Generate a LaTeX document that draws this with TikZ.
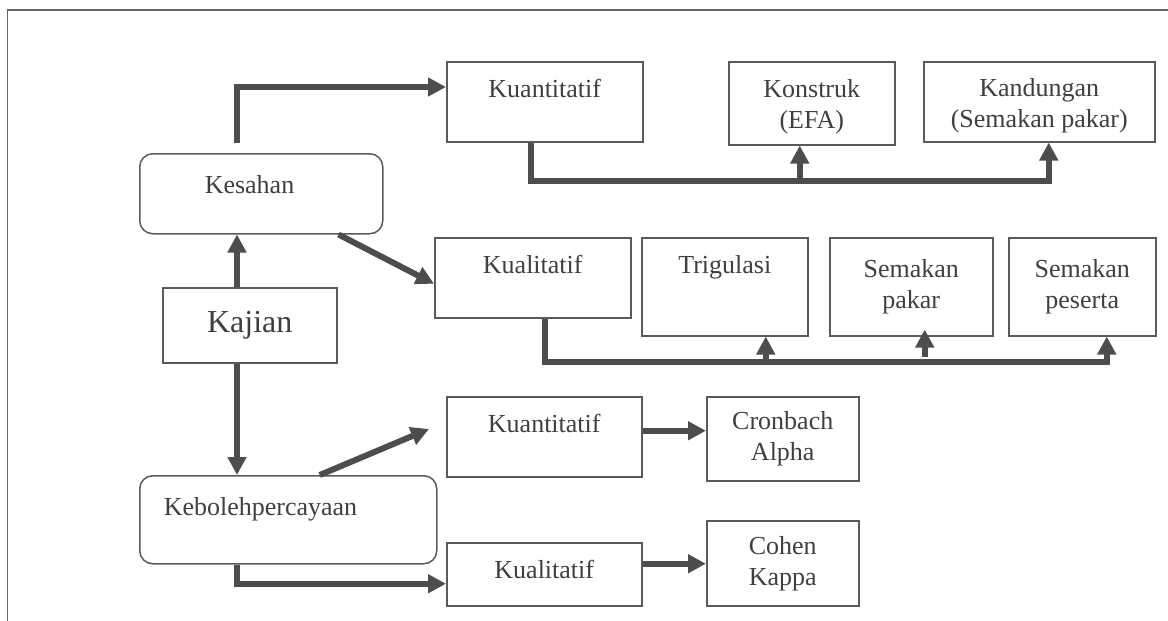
\documentclass[tikz,border=0pt]{standalone}
\usepackage{fontspec}
\setmainfont{Liberation Serif}
\usetikzlibrary{arrows.meta}

\definecolor{linegray}{HTML}{4D4D4D}
\definecolor{boxgray}{HTML}{5A5A5A}
\definecolor{textgray}{HTML}{3F3F3F}

\begin{document}
\begin{tikzpicture}[
  x=0.5pt, y=-0.5pt,
  >={Triangle[width=9pt,length=9pt]},
  every node/.style={font=\fontsize{13pt}{15.5pt}\selectfont, text=textgray},
  box/.style={draw=boxgray, line width=.75pt, anchor=north west, align=center, inner sep=0pt},
  topbox/.style={box, text height=18pt, text depth=#1},
  roundbox/.style={box, rounded corners=6.5pt, align=left, text height=20pt},
  flow/.style={->, draw=linegray, line width=3pt},
  frame/.style={draw=gray!80!black, line width=.75pt}
]
  \useasboundingbox (0,0) rectangle (1168,621);
  \draw[frame] (7.5,621) -- (7.5,10) -- (1168,10);

  % boxes
  \node[topbox=22pt, minimum width=98pt] (kuanA) at (446,61) {Kuantitatif};
  \node[box, minimum width=83pt, minimum height=41.5pt] (konstruk) at (728,61) {\rule{0pt}{13pt}Konstruk\\(EFA)};
  \node[box, minimum width=115.5pt, minimum height=40pt] (kandungan) at (923,61) {\rule{0pt}{13pt}Kandungan\\(Semakan pakar)};
  \node[roundbox, text width=56.5pt, inner xsep=32.5pt, text depth=20pt] (kesahan) at (139,153) {Kesahan};
  \node[topbox=22pt, minimum width=98pt] (kualA) at (434,237) {Kualitatif};
  \node[topbox=31pt, minimum width=83pt] (trigulasi) at (641,237) {Trigulasi};
  \node[box, minimum width=81.5pt, minimum height=49pt] (pakar) at (829,237) {Semakan\\pakar};
  \node[box, minimum width=73.5pt, minimum height=49pt] (peserta) at (1008,237) {Semakan\\peserta};
  \node[box, minimum width=87pt, minimum height=37.5pt, font=\fontsize{16pt}{19pt}\selectfont] (kajian) at (162,287) {Kajian};
  \node[topbox=22pt, minimum width=97.5pt] (kuanB) at (446,396) {Kuantitatif};
  \node[box, minimum width=76pt, minimum height=42pt] (cronbach) at (706,396) {Cronbach\\Alpha};
  \node[roundbox, text width=124.5pt, inner xsep=12pt, text depth=24pt] (kebolehan) at (139,475) {Kebolehpercayaan};
  \node[topbox=13.5pt, minimum width=97.5pt] (kualB) at (446,542) {Kualitatif};
  \node[box, minimum width=76pt, minimum height=42.5pt] (cohen) at (706,520) {Cohen\\Kappa};

  \coordinate (spine) at (237,0);
  \coordinate (busA) at (0,181);
  \coordinate (busB) at (0,362);
  \coordinate (kuanBtip) at (429,429);

  % arrows
  \draw[flow] (kajian.north -| spine) -- (kesahan.south -| spine);
  \draw[flow] (kajian.south -| spine) -- (kebolehan.north -| spine);
  \draw[flow] ([yshift=5pt]kesahan.north -| spine) |- ([yshift=-13pt]kuanA.north west);
  \draw[flow] ([xshift=-22.5pt]kesahan.south east) -- ([yshift=-3pt]kualA.west);

  \draw[flow] ([xshift=-7pt]kuanA.south) |- ([xshift=4.75pt]kandungan.south |- busA) -- ([xshift=4.75pt]kandungan.south);
  \draw[flow] ([xshift=-6pt]konstruk.south |- busA) -- ([xshift=-6pt]konstruk.south);

  \draw[flow] ([xshift=6pt]kualA.south) |- ([xshift=12.25pt]peserta.south |- busB) -- ([xshift=12.25pt]peserta.south);
  \draw[flow] ([xshift=20.5pt]trigulasi.south |- busB) -- ([xshift=20.5pt]trigulasi.south);
  \draw[flow] ([xshift=6.75pt,yshift=-10pt]pakar.south) -- ([xshift=6.75pt,yshift=3.5pt]pakar.south);

  \draw[flow] ([xshift=15.75pt]kebolehan.north) -- (kuanBtip);
  \draw[flow] (kebolehan.south -| spine) |- ([yshift=-4.75pt]kualB.west);
  \draw[flow] ([yshift=3pt]kuanB.east) -- ([yshift=3pt]kuanB.east -| cronbach.west);
  \draw[flow] ([yshift=5.25pt]kualB.east) -- ([yshift=5.25pt]kualB.east -| cohen.west);
\end{tikzpicture}
\end{document}
